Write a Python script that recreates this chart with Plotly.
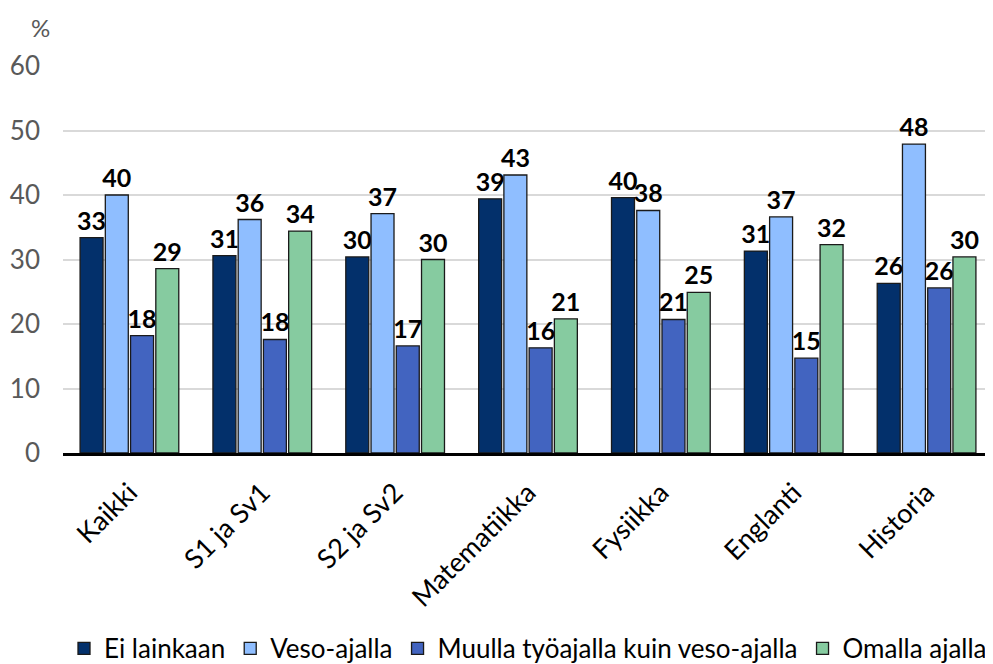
import plotly.graph_objects as go

categories = ["Kaikki", "S1 ja Sv1", "S2 ja Sv2", "Matematiikka", "Fysiikka", "Englanti", "Historia"]
series_names = ["Ei lainkaan", "Veso-ajalla", "Muulla työajalla kuin veso-ajalla", "Omalla ajalla"]
ei_lainkaan = [33.4, 30.6, 30.4, 39.4, 39.6, 31.3, 26.3]
veso_ajalla = [40.0, 36.2, 37.1, 43.1, 37.6, 36.6, 47.9]
muulla_tyoajalla = [18.2, 17.6, 16.6, 16.3, 20.7, 14.7, 25.6]
omalla_ajalla = [28.6, 34.4, 30.0, 20.8, 24.9, 32.3, 30.4]
y_ticks = [0, 10, 20, 30, 40, 50, 60]

colors = ["#03306B", "#8FBEFF", "#4264C0", "#86CBA0"]
values = [ei_lainkaan, veso_ajalla, muulla_tyoajalla, omalla_ajalla]

FONT = "Lato"
fig = go.Figure()
for name, vals, col in zip(series_names, values, colors):
    fig.add_trace(go.Bar(
        x=categories, y=vals, name=name,
        marker=dict(color=col, line=dict(color="#1a1a1a", width=1.3)),
        text=[f"{v:.0f}" for v in vals],
        textposition="outside",
        textfont=dict(family=FONT, size=25, color="black", weight="bold"),
        constraintext="none",
        cliponaxis=False,
    ))

# page body has an 8px default margin: figure is sized/offset to compensate
fig.update_layout(
    width=985, height=656,
    margin=dict(l=55, r=0, t=58, b=211, autoexpand=False),
    paper_bgcolor="white", plot_bgcolor="white",
    barmode="group", bargap=0.24, bargroupgap=0.09,
    font=dict(family=FONT, size=25, color="black"),
    showlegend=True,
    legend=dict(orientation="h", x=0.5, xanchor="center", y=-0.505, yanchor="middle",
                font=dict(family=FONT, size=26, color="black"),
                traceorder="normal"),
    xaxis=dict(tickangle=-45, tickfont=dict(family=FONT, size=27, color="black"),
               showline=True, linecolor="black", linewidth=3, ticks="", showgrid=False,
               ticklabelstandoff=10),
    yaxis=dict(range=[0, 60], tickvals=y_ticks, showgrid=True, gridcolor="#D9D9D9", gridwidth=1.5,
               zeroline=False, showline=False, ticklabelstandoff=22,
               tickfont=dict(family=FONT, size=26, color="#595959"), ticks=""),
)
fig.add_annotation(text="%", xref="paper", yref="paper", x=-0.024, y=1.1, showarrow=False,
                   xanchor="center", yanchor="middle",
                   font=dict(family=FONT, size=24, color="#595959"))
fig.write_html("out.html")
